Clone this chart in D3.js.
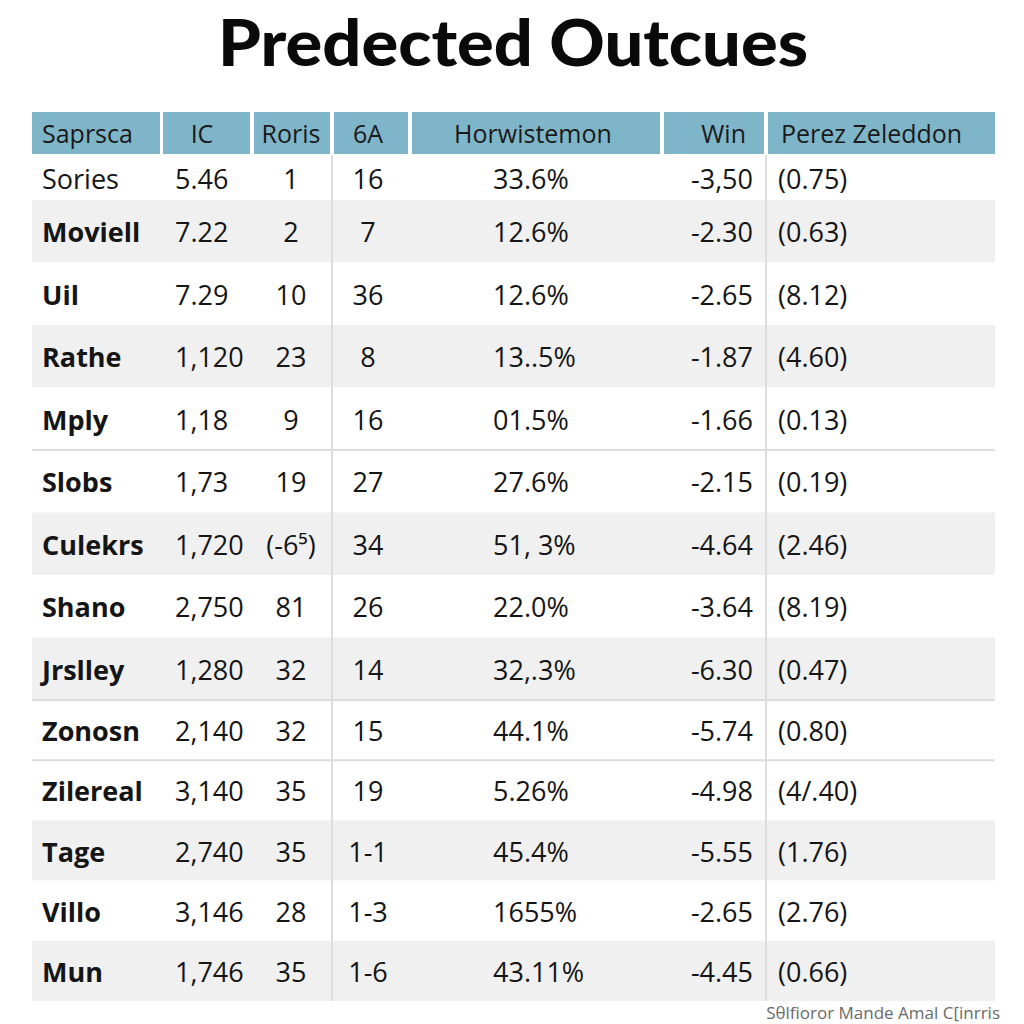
<!DOCTYPE html>
<html>
<head>
<meta charset="utf-8">
<script src="https://cdn.jsdelivr.net/npm/d3@7"></script>
<style>
  body { margin: 0; background: #fff; }
  svg text { font-family: "Open Sans", "Noto Sans", sans-serif; }
</style>
</head>
<body>
<div id="chart"></div>
<script>
// table contents, as printed
var headers = ["Saprsca", "IC", "Roris", "6A", "Horwistemon", "Win", "Perez Zeleddon"];
var teams = ["Sories", "Moviell", "Uil", "Rathe", "Mply", "Slobs", "Culekrs", "Shano", "Jrslley", "Zonosn", "Zilereal", "Tage", "Villo", "Mun"];
var icVals = ["5.46", "7.22", "7.29", "1,120", "1,18", "1,73", "1,720", "2,750", "1,280", "2,140", "3,140", "2,740", "3,146", "1,746"];
var rorisVals = ["1", "2", "10", "23", "9", "19", "(-6\u2075)", "81", "32", "32", "35", "35", "28", "35"];
var sixAVals = ["16", "7", "36", "8", "16", "27", "34", "26", "14", "15", "19", "1-1", "1-3", "1-6"];
var horwVals = ["33.6%", "12.6%", "12.6%", "13..5%", "01.5%", "27.6%", "51, 3%", "22.0%", "32,.3%", "44.1%", "5.26%", "45.4%", "1655%", "43.11%"];
var winVals = ["-3,50", "-2.30", "-2.65", "-1.87", "-1.66", "-2.15", "-4.64", "-3.64", "-6.30", "-5.74", "-4.98", "-5.55", "-2.65", "-4.45"];
var perezVals = ["(0.75)", "(0.63)", "(8.12)", "(4.60)", "(0.13)", "(0.19)", "(2.46)", "(8.19)", "(0.47)", "(0.80)", "(4/.40)", "(1.76)", "(2.76)", "(0.66)"];

var columns = [teams, icVals, rorisVals, sixAVals, horwVals, winVals, perezVals];

var width = 1024, height = 1024;

// layout of each column: cell edges, body text anchor/pos, header anchor/pos
var colLayout = [
    { x0: 32,  x1: 160, anchor: "start",  tx: 42,  hAnchor: "start",  hx: 42 },
    { x0: 163, x1: 250, anchor: "start",  tx: 175, hAnchor: "middle", hx: 202 },
    { x0: 254, x1: 330, anchor: "middle", tx: 291, hAnchor: "middle", hx: 291 },
    { x0: 334, x1: 408, anchor: "middle", tx: 368, hAnchor: "middle", hx: 368 },
    { x0: 412, x1: 660, anchor: "start",  tx: 493, hAnchor: "middle", hx: 533 },
    { x0: 664, x1: 764, anchor: "end",    tx: 753, hAnchor: "end",    hx: 746 },
    { x0: 768, x1: 995, anchor: "start",  tx: 778, hAnchor: "start",  hx: 781 }
];

var shadedRows = [1, 3, 6, 8, 11, 13];
var ruledRows = [4, 8, 9];   // rows with a line under them

// row index -> top edge
var y = d3.scaleLinear()
    .domain([0, 1, 9, teams.length])
    .range([155, 200, 700, 1001]);

var svg = d3.select("#chart").append("svg")
    .attr("width", width)
    .attr("height", height);

svg.append("rect")
    .attr("width", width)
    .attr("height", height)
    .attr("fill", "#fff");

// title - heavy, stretched to the reference width
svg.append("text")
    .attr("x", 513)
    .attr("y", 66)
    .attr("text-anchor", "middle")
    .style("font-family", "Lato, 'Open Sans', sans-serif")
    .style("font-size", "65px")
    .style("font-weight", 900)
    .attr("fill", "#0a0a0a")
    .attr("textLength", 590)
    .attr("lengthAdjust", "spacingAndGlyphs")
    .text("Predected Outcues");

// row bands
svg.append("g").selectAll("rect")
    .data(teams)
    .join("rect")
    .attr("x", 32)
    .attr("y", (d, i) => y(i))
    .attr("width", 995 - 32)
    .attr("height", (d, i) => y(i + 1) - y(i))
    .attr("fill", (d, i) => shadedRows.indexOf(i) >= 0 ? "#f0f0f0" : "#fff");

// horizontal rules
svg.append("g").selectAll("line")
    .data(ruledRows)
    .join("line")
    .attr("x1", 32)
    .attr("x2", 995)
    .attr("y1", d => y(d + 1))
    .attr("y2", d => y(d + 1))
    .attr("stroke", "#dcdcdc")
    .attr("stroke-width", 2);

// vertical dividers in body
svg.append("g").selectAll("line")
    .data([332, 766])
    .join("line")
    .attr("x1", d => d)
    .attr("x2", d => d)
    .attr("y1", 155)
    .attr("y2", y(teams.length))
    .attr("stroke", "#dddddd")
    .attr("stroke-width", 2);

// header
var head = svg.append("g");
head.selectAll("rect")
    .data(colLayout)
    .join("rect")
    .attr("x", d => d.x0)
    .attr("y", 112)
    .attr("width", d => d.x1 - d.x0)
    .attr("height", 42)
    .attr("fill", "#7fb5c9");

head.selectAll("text")
    .data(headers)
    .join("text")
    .attr("x", (d, i) => colLayout[i].hx)
    .attr("y", 143)
    .attr("text-anchor", (d, i) => colLayout[i].hAnchor)
    .attr("font-size", 25)
    .attr("fill", "#1a1a1a")
    .text(d => d);

// body cells
var body = svg.append("g");
columns.forEach(function(vals, c) {
    body.append("g").selectAll("text")
        .data(vals)
        .join("text")
        .attr("x", colLayout[c].tx)
        .attr("y", (d, i) => (y(i) + y(i + 1)) / 2 + 11)
        .attr("text-anchor", colLayout[c].anchor)
        .attr("font-size", 27)
        .attr("font-weight", (d, i) => (c === 0 && i > 0) ? 700 : 400)
        .attr("fill", "#151515")
        .text(d => d);
});

// source line
svg.append("text")
    .attr("x", 1000)
    .attr("y", 1019)
    .attr("text-anchor", "end")
    .attr("font-size", 17)
    .attr("fill", "#6a6a6a")
    .text("S\u03b8lfioror Mande Amal C[inrris");
</script>
</body>
</html>
